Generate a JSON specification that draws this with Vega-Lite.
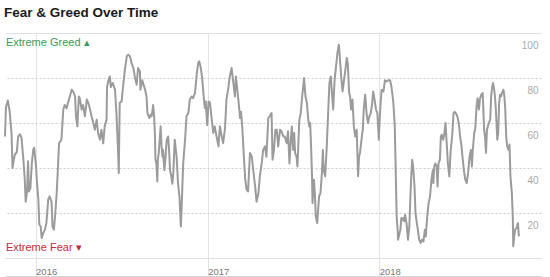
{
  "$schema": "https://vega.github.io/schema/vega-lite/v6.json",
  "width": 536,
  "height": 243,
  "autosize": {"type": "none"},
  "padding": {"left": 5, "top": 33, "right": 9, "bottom": 1},
  "background": "white",
  "title": {"text": "Fear & Greed Over Time", "anchor": "start", "fontSize": 13.5, "font": "Liberation Sans", "fontWeight": "bold", "color": "#1a1a1a", "offset": 3, "baseline": "alphabetic"},
  "config": {"view": {"stroke": null}, "font": "Liberation Sans"},
  "layer": [
    {
      "data": {"values": [
{"date":"2015-10-28","index":54},{"date":"2015-10-30","index":67},{"date":"2015-11-03","index":70},{"date":"2015-11-07","index":65},{"date":"2015-11-11","index":55},{"date":"2015-11-13","index":40},{"date":"2015-11-16","index":44},{"date":"2015-11-18","index":46},{"date":"2015-11-22","index":47},{"date":"2015-11-25","index":54},{"date":"2015-11-29","index":55},{"date":"2015-12-02","index":53.5},{"date":"2015-12-06","index":44},{"date":"2015-12-09","index":35},{"date":"2015-12-11","index":25},{"date":"2015-12-14","index":29.6},{"date":"2015-12-16","index":43},{"date":"2015-12-18","index":29.6},{"date":"2015-12-21","index":31},{"date":"2015-12-24","index":42},{"date":"2015-12-27","index":48},{"date":"2015-12-29","index":49},
{"date":"2016-01-02","index":40.7},{"date":"2016-01-04","index":33.5},{"date":"2016-01-07","index":26},{"date":"2016-01-09","index":14.8},{"date":"2016-01-12","index":14},{"date":"2016-01-14","index":8.9},{"date":"2016-01-17","index":11},{"date":"2016-01-21","index":12.6},{"date":"2016-01-24","index":15.5},{"date":"2016-01-28","index":26},{"date":"2016-01-31","index":27.4},{"date":"2016-02-04","index":25},{"date":"2016-02-06","index":14},{"date":"2016-02-09","index":12.6},{"date":"2016-02-12","index":20},{"date":"2016-02-15","index":29},{"date":"2016-02-18","index":42},{"date":"2016-02-20","index":51},{"date":"2016-02-25","index":52.6},{"date":"2016-02-29","index":66},{"date":"2016-03-03","index":68},{"date":"2016-03-07","index":66.5},{"date":"2016-03-10","index":69},{"date":"2016-03-14","index":71.8},{"date":"2016-03-18","index":74.8},{"date":"2016-03-21","index":74},{"date":"2016-03-25","index":71.8},{"date":"2016-03-27","index":63},{"date":"2016-03-30","index":58.5},{"date":"2016-04-02","index":71.8},{"date":"2016-04-04","index":71},{"date":"2016-04-08","index":66},{"date":"2016-04-11","index":68},{"date":"2016-04-15","index":63},{"date":"2016-04-19","index":70.4},{"date":"2016-04-22","index":69},{"date":"2016-04-26","index":66},{"date":"2016-04-29","index":63},{"date":"2016-05-03","index":60},{"date":"2016-05-06","index":57},{"date":"2016-05-10","index":61.5},{"date":"2016-05-13","index":55.6},{"date":"2016-05-17","index":52.6},{"date":"2016-05-20","index":57},{"date":"2016-05-24","index":51},{"date":"2016-05-27","index":58.5},{"date":"2016-05-31","index":61.5},{"date":"2016-06-01","index":76},{"date":"2016-06-04","index":79},{"date":"2016-06-07","index":80.7},{"date":"2016-06-09","index":76},{"date":"2016-06-13","index":77.8},{"date":"2016-06-18","index":74.8},{"date":"2016-06-21","index":64.4},{"date":"2016-06-24","index":50},{"date":"2016-06-26","index":37.8},{"date":"2016-06-28","index":69},{"date":"2016-07-02","index":69.6},{"date":"2016-07-05","index":76},{"date":"2016-07-09","index":83.7},{"date":"2016-07-13","index":89.6},{"date":"2016-07-16","index":90.4},{"date":"2016-07-20","index":89.6},{"date":"2016-07-23","index":86.7},{"date":"2016-07-27","index":84.5},{"date":"2016-07-30","index":80.7},{"date":"2016-08-03","index":77},{"date":"2016-08-06","index":84.4},{"date":"2016-08-10","index":83},{"date":"2016-08-11","index":74.8},{"date":"2016-08-15","index":79},{"date":"2016-08-17","index":77.5},{"date":"2016-08-21","index":74.8},{"date":"2016-08-24","index":71.8},{"date":"2016-08-26","index":64.4},{"date":"2016-08-30","index":62.2},{"date":"2016-09-02","index":63.7},{"date":"2016-09-04","index":63},{"date":"2016-09-07","index":68},{"date":"2016-09-09","index":63.7},{"date":"2016-09-11","index":54},{"date":"2016-09-12","index":43.7},{"date":"2016-09-14","index":42},{"date":"2016-09-16","index":34},{"date":"2016-09-17","index":43.7},{"date":"2016-09-19","index":46.7},{"date":"2016-09-23","index":58.5},{"date":"2016-09-25","index":49.6},{"date":"2016-09-27","index":45},{"date":"2016-09-28","index":48},{"date":"2016-10-01","index":39},{"date":"2016-10-03","index":43.7},{"date":"2016-10-06","index":52.6},{"date":"2016-10-09","index":54},{"date":"2016-10-11","index":48},{"date":"2016-10-13","index":39},{"date":"2016-10-16","index":36},{"date":"2016-10-18","index":33},{"date":"2016-10-20","index":37.8},{"date":"2016-10-23","index":52.6},{"date":"2016-10-27","index":45},{"date":"2016-10-30","index":33},{"date":"2016-11-02","index":27.4},{"date":"2016-11-05","index":14},{"date":"2016-11-07","index":24.4},{"date":"2016-11-10","index":42},{"date":"2016-11-14","index":52.6},{"date":"2016-11-17","index":63},{"date":"2016-11-21","index":64.4},{"date":"2016-11-24","index":70.4},{"date":"2016-11-28","index":71.8},{"date":"2016-12-01","index":71},{"date":"2016-12-05","index":73.3},{"date":"2016-12-09","index":82},{"date":"2016-12-12","index":86.7},{"date":"2016-12-14","index":87.4},{"date":"2016-12-17","index":85},{"date":"2016-12-20","index":80.7},{"date":"2016-12-23","index":73.3},{"date":"2016-12-26","index":66.7},{"date":"2016-12-28","index":69.6},{"date":"2016-12-31","index":59},
{"date":"2017-01-03","index":69.6},{"date":"2017-01-06","index":69},{"date":"2017-01-09","index":63},{"date":"2017-01-13","index":55.6},{"date":"2017-01-16","index":58.5},{"date":"2017-01-20","index":54},{"date":"2017-01-24","index":49.6},{"date":"2017-01-27","index":58.5},{"date":"2017-01-31","index":54},{"date":"2017-02-03","index":51},{"date":"2017-02-07","index":57.8},{"date":"2017-02-10","index":70.4},{"date":"2017-02-14","index":75.5},{"date":"2017-02-17","index":80.7},{"date":"2017-02-21","index":84.4},{"date":"2017-02-24","index":79},{"date":"2017-02-28","index":71.8},{"date":"2017-03-02","index":80.7},{"date":"2017-03-05","index":74.8},{"date":"2017-03-08","index":69},{"date":"2017-03-11","index":62.2},{"date":"2017-03-13","index":65},{"date":"2017-03-16","index":57},{"date":"2017-03-19","index":45},{"date":"2017-03-22","index":34.8},{"date":"2017-03-25","index":30.4},{"date":"2017-03-28","index":29.6},{"date":"2017-04-01","index":46.7},{"date":"2017-04-05","index":45},{"date":"2017-04-08","index":39},{"date":"2017-04-12","index":31.8},{"date":"2017-04-15","index":25},{"date":"2017-04-19","index":28.9},{"date":"2017-04-22","index":36.3},{"date":"2017-04-26","index":42},{"date":"2017-04-29","index":48},{"date":"2017-05-03","index":49.6},{"date":"2017-05-06","index":45},{"date":"2017-05-10","index":62.2},{"date":"2017-05-13","index":63},{"date":"2017-05-17","index":64.4},{"date":"2017-05-19","index":43.7},{"date":"2017-05-22","index":48},{"date":"2017-05-25","index":57},{"date":"2017-05-28","index":57},{"date":"2017-05-31","index":49.6},{"date":"2017-06-04","index":57},{"date":"2017-06-07","index":56.3},{"date":"2017-06-11","index":54},{"date":"2017-06-14","index":54},{"date":"2017-06-18","index":51},{"date":"2017-06-21","index":56.3},{"date":"2017-06-24","index":42},{"date":"2017-06-27","index":52.6},{"date":"2017-06-29","index":58.5},{"date":"2017-07-02","index":48},{"date":"2017-07-04","index":55.6},{"date":"2017-07-06","index":46.7},{"date":"2017-07-09","index":45},{"date":"2017-07-11","index":40.7},{"date":"2017-07-15","index":61.5},{"date":"2017-07-18","index":64.4},{"date":"2017-07-21","index":71.8},{"date":"2017-07-23","index":75.5},{"date":"2017-07-25","index":80},{"date":"2017-07-28","index":72},{"date":"2017-07-31","index":69},{"date":"2017-08-03","index":61.5},{"date":"2017-08-05","index":58.5},{"date":"2017-08-07","index":60},{"date":"2017-08-09","index":49.6},{"date":"2017-08-11","index":36.3},{"date":"2017-08-12","index":24.4},{"date":"2017-08-15","index":34.8},{"date":"2017-08-17","index":28.9},{"date":"2017-08-19","index":18.5},{"date":"2017-08-22","index":15.5},{"date":"2017-08-24","index":21.5},{"date":"2017-08-26","index":27.4},{"date":"2017-08-29","index":28.9},{"date":"2017-09-01","index":37.8},{"date":"2017-09-03","index":48},{"date":"2017-09-05","index":39},{"date":"2017-09-08","index":36.3},{"date":"2017-09-11","index":48},{"date":"2017-09-14","index":63},{"date":"2017-09-17","index":77.8},{"date":"2017-09-20","index":80.7},{"date":"2017-09-22","index":74.6},{"date":"2017-09-25","index":66},{"date":"2017-09-28","index":79},{"date":"2017-10-01","index":85},{"date":"2017-10-04","index":91},{"date":"2017-10-07","index":94.8},{"date":"2017-10-09","index":89.6},{"date":"2017-10-12","index":80.7},{"date":"2017-10-15","index":74},{"date":"2017-10-18","index":79},{"date":"2017-10-21","index":83.7},{"date":"2017-10-24","index":88.9},{"date":"2017-10-26","index":86.7},{"date":"2017-10-29","index":73.3},{"date":"2017-10-31","index":71.8},{"date":"2017-11-02","index":66},{"date":"2017-11-05","index":70.4},{"date":"2017-11-08","index":58.5},{"date":"2017-11-11","index":54},{"date":"2017-11-14","index":57},{"date":"2017-11-17","index":36.3},{"date":"2017-11-19","index":45},{"date":"2017-11-21","index":46.7},{"date":"2017-11-25","index":54},{"date":"2017-11-27","index":57},{"date":"2017-11-29","index":66},{"date":"2017-12-02","index":72.6},{"date":"2017-12-05","index":64.4},{"date":"2017-12-08","index":60},{"date":"2017-12-11","index":63},{"date":"2017-12-14","index":64.4},{"date":"2017-12-17","index":69},{"date":"2017-12-19","index":74},{"date":"2017-12-22","index":70.4},{"date":"2017-12-25","index":66},{"date":"2017-12-28","index":64.4},{"date":"2017-12-31","index":52.6},
{"date":"2018-01-03","index":66},{"date":"2018-01-06","index":74.8},{"date":"2018-01-10","index":74},{"date":"2018-01-13","index":79},{"date":"2018-01-17","index":78.5},{"date":"2018-01-20","index":79},{"date":"2018-01-24","index":79},{"date":"2018-01-27","index":76},{"date":"2018-01-31","index":69},{"date":"2018-02-03","index":58.5},{"date":"2018-02-05","index":39},{"date":"2018-02-07","index":18.5},{"date":"2018-02-09","index":12.6},{"date":"2018-02-10","index":8.1},{"date":"2018-02-13","index":11},{"date":"2018-02-15","index":12.6},{"date":"2018-02-17","index":17.8},{"date":"2018-02-19","index":17},{"date":"2018-02-21","index":17.8},{"date":"2018-02-23","index":16.3},{"date":"2018-02-25","index":19.2},{"date":"2018-02-28","index":15.5},{"date":"2018-03-03","index":8.1},{"date":"2018-03-06","index":14},{"date":"2018-03-08","index":26},{"date":"2018-03-10","index":36.3},{"date":"2018-03-12","index":43.7},{"date":"2018-03-14","index":40.7},{"date":"2018-03-17","index":31.8},{"date":"2018-03-19","index":20},{"date":"2018-03-22","index":15.5},{"date":"2018-03-24","index":12.6},{"date":"2018-03-27","index":8.1},{"date":"2018-03-30","index":6.7},{"date":"2018-04-02","index":8.1},{"date":"2018-04-05","index":7.3},{"date":"2018-04-08","index":12.6},{"date":"2018-04-10","index":9.6},{"date":"2018-04-13","index":18.5},{"date":"2018-04-16","index":24.4},{"date":"2018-04-19","index":27.4},{"date":"2018-04-22","index":34.8},{"date":"2018-04-25","index":39},{"date":"2018-04-26","index":33.3},{"date":"2018-04-28","index":40.7},{"date":"2018-04-30","index":42},{"date":"2018-05-03","index":41},{"date":"2018-05-05","index":31.8},{"date":"2018-05-07","index":42},{"date":"2018-05-10","index":43.7},{"date":"2018-05-12","index":54},{"date":"2018-05-14","index":54.8},{"date":"2018-05-17","index":52.6},{"date":"2018-05-19","index":54.5},{"date":"2018-05-22","index":60},{"date":"2018-05-24","index":52.6},{"date":"2018-05-27","index":42},{"date":"2018-05-30","index":36.3},{"date":"2018-06-02","index":48},{"date":"2018-06-05","index":54},{"date":"2018-06-08","index":64.4},{"date":"2018-06-10","index":65},{"date":"2018-06-13","index":64.4},{"date":"2018-06-16","index":63},{"date":"2018-06-19","index":60},{"date":"2018-06-22","index":54},{"date":"2018-06-25","index":49.6},{"date":"2018-06-27","index":45},{"date":"2018-06-30","index":39},{"date":"2018-07-03","index":34.8},{"date":"2018-07-06","index":33.3},{"date":"2018-07-09","index":37.8},{"date":"2018-07-12","index":45},{"date":"2018-07-15","index":48},{"date":"2018-07-17","index":40.7},{"date":"2018-07-19","index":48},{"date":"2018-07-22","index":55.6},{"date":"2018-07-24","index":57},{"date":"2018-07-27","index":67.4},{"date":"2018-07-29","index":71},{"date":"2018-08-01","index":66},{"date":"2018-08-03","index":70.4},{"date":"2018-08-06","index":72.6},{"date":"2018-08-09","index":73.3},{"date":"2018-08-12","index":57},{"date":"2018-08-14","index":54},{"date":"2018-08-16","index":46.7},{"date":"2018-08-18","index":57},{"date":"2018-08-20","index":58.5},{"date":"2018-08-22","index":60},{"date":"2018-08-25","index":61.5},{"date":"2018-08-27","index":71.8},{"date":"2018-08-29","index":76},{"date":"2018-08-31","index":77.8},{"date":"2018-09-02","index":75.5},{"date":"2018-09-04","index":72},{"date":"2018-09-06","index":66},{"date":"2018-09-09","index":52.6},{"date":"2018-09-11","index":55.6},{"date":"2018-09-13","index":69},{"date":"2018-09-15","index":72.6},{"date":"2018-09-17","index":71.8},{"date":"2018-09-19","index":73.3},{"date":"2018-09-22","index":74.8},{"date":"2018-09-24","index":72},{"date":"2018-09-26","index":66},{"date":"2018-09-28","index":54},{"date":"2018-09-30","index":49.6},{"date":"2018-10-03","index":48},{"date":"2018-10-05","index":50.4},{"date":"2018-10-07","index":36.3},{"date":"2018-10-10","index":28.9},{"date":"2018-10-12","index":18.5},{"date":"2018-10-13","index":5.2},{"date":"2018-10-15","index":9.6},{"date":"2018-10-17","index":12.6},{"date":"2018-10-20","index":13.3},{"date":"2018-10-23","index":15.5},{"date":"2018-10-25","index":9.6}
      ]},
      "mark": {"type": "line", "color": "#9b9b9b", "strokeWidth": 2, "strokeJoin": "round"},
      "encoding": {
        "x": {
          "field": "date", "type": "temporal",
          "scale": {"type": "utc", "domain": [{"year": 2015, "month": 10, "date": 28, "utc": true}, {"year": 2018, "month": 12, "date": 11, "utc": true}]},
          "axis": {
            "title": null,
            "values": [{"year": 2016, "month": 1, "date": 1, "utc": true}, {"year": 2017, "month": 1, "date": 1, "utc": true}, {"year": 2018, "month": 1, "date": 1, "utc": true}],
            "format": "%Y",
            "grid": true, "gridColor": "#e3e3e3", "gridWidth": 1,
            "ticks": false,
            "domain": true, "domainColor": "#d4d4d4",
            "labelAlign": "left", "labelBaseline": "alphabetic", "labelPadding": -2, "labelDx": 3,
            "labelColor": "#777777", "labelFontSize": 9.5, "labelFlush": false, "labelOverlap": false
          }
        },
        "y": {
          "field": "index", "type": "quantitative",
          "scale": {"domain": [-8, 100], "nice": false, "zero": false},
          "axis": {
            "title": null, "orient": "right",
            "values": [0, 20, 40, 60, 80, 100],
            "grid": true,
            "gridColor": {"condition": {"test": "datum.value == 0 || datum.value == 100", "value": "#e0e0e0"}, "value": "#cccccc"},
            "gridDash": {"condition": {"test": "datum.value == 0 || datum.value == 100", "value": []}, "value": [2, 2]},
            "ticks": false, "domain": false,
            "labelAlign": "right", "labelPadding": -3, "labelBaseline": "middle", "labelOffset": 12,
            "labelColor": "#aaaaaa", "labelFontSize": 10, "labelFlush": false, "labelOverlap": false,
            "labelExpr": "datum.value == 0 ? '' : datum.label"
          }
        }
      }
    },
    {
      "data": {"values": [
        {"date": "2015-10-30", "index": 95.5, "label": "Extreme Greed ▴", "tone": "greed"},
        {"date": "2015-10-30", "index": 4.4, "label": "Extreme Fear ▾", "tone": "fear"}
      ]},
      "mark": {"type": "text", "align": "left", "baseline": "middle", "fontSize": 11},
      "encoding": {
        "x": {"field": "date", "type": "temporal"},
        "y": {"field": "index", "type": "quantitative"},
        "text": {"field": "label"},
        "color": {"field": "tone", "type": "nominal", "scale": {"domain": ["greed", "fear"], "range": ["#3a9a5a", "#c4293f"]}, "legend": null}
      }
    }
  ]
}
